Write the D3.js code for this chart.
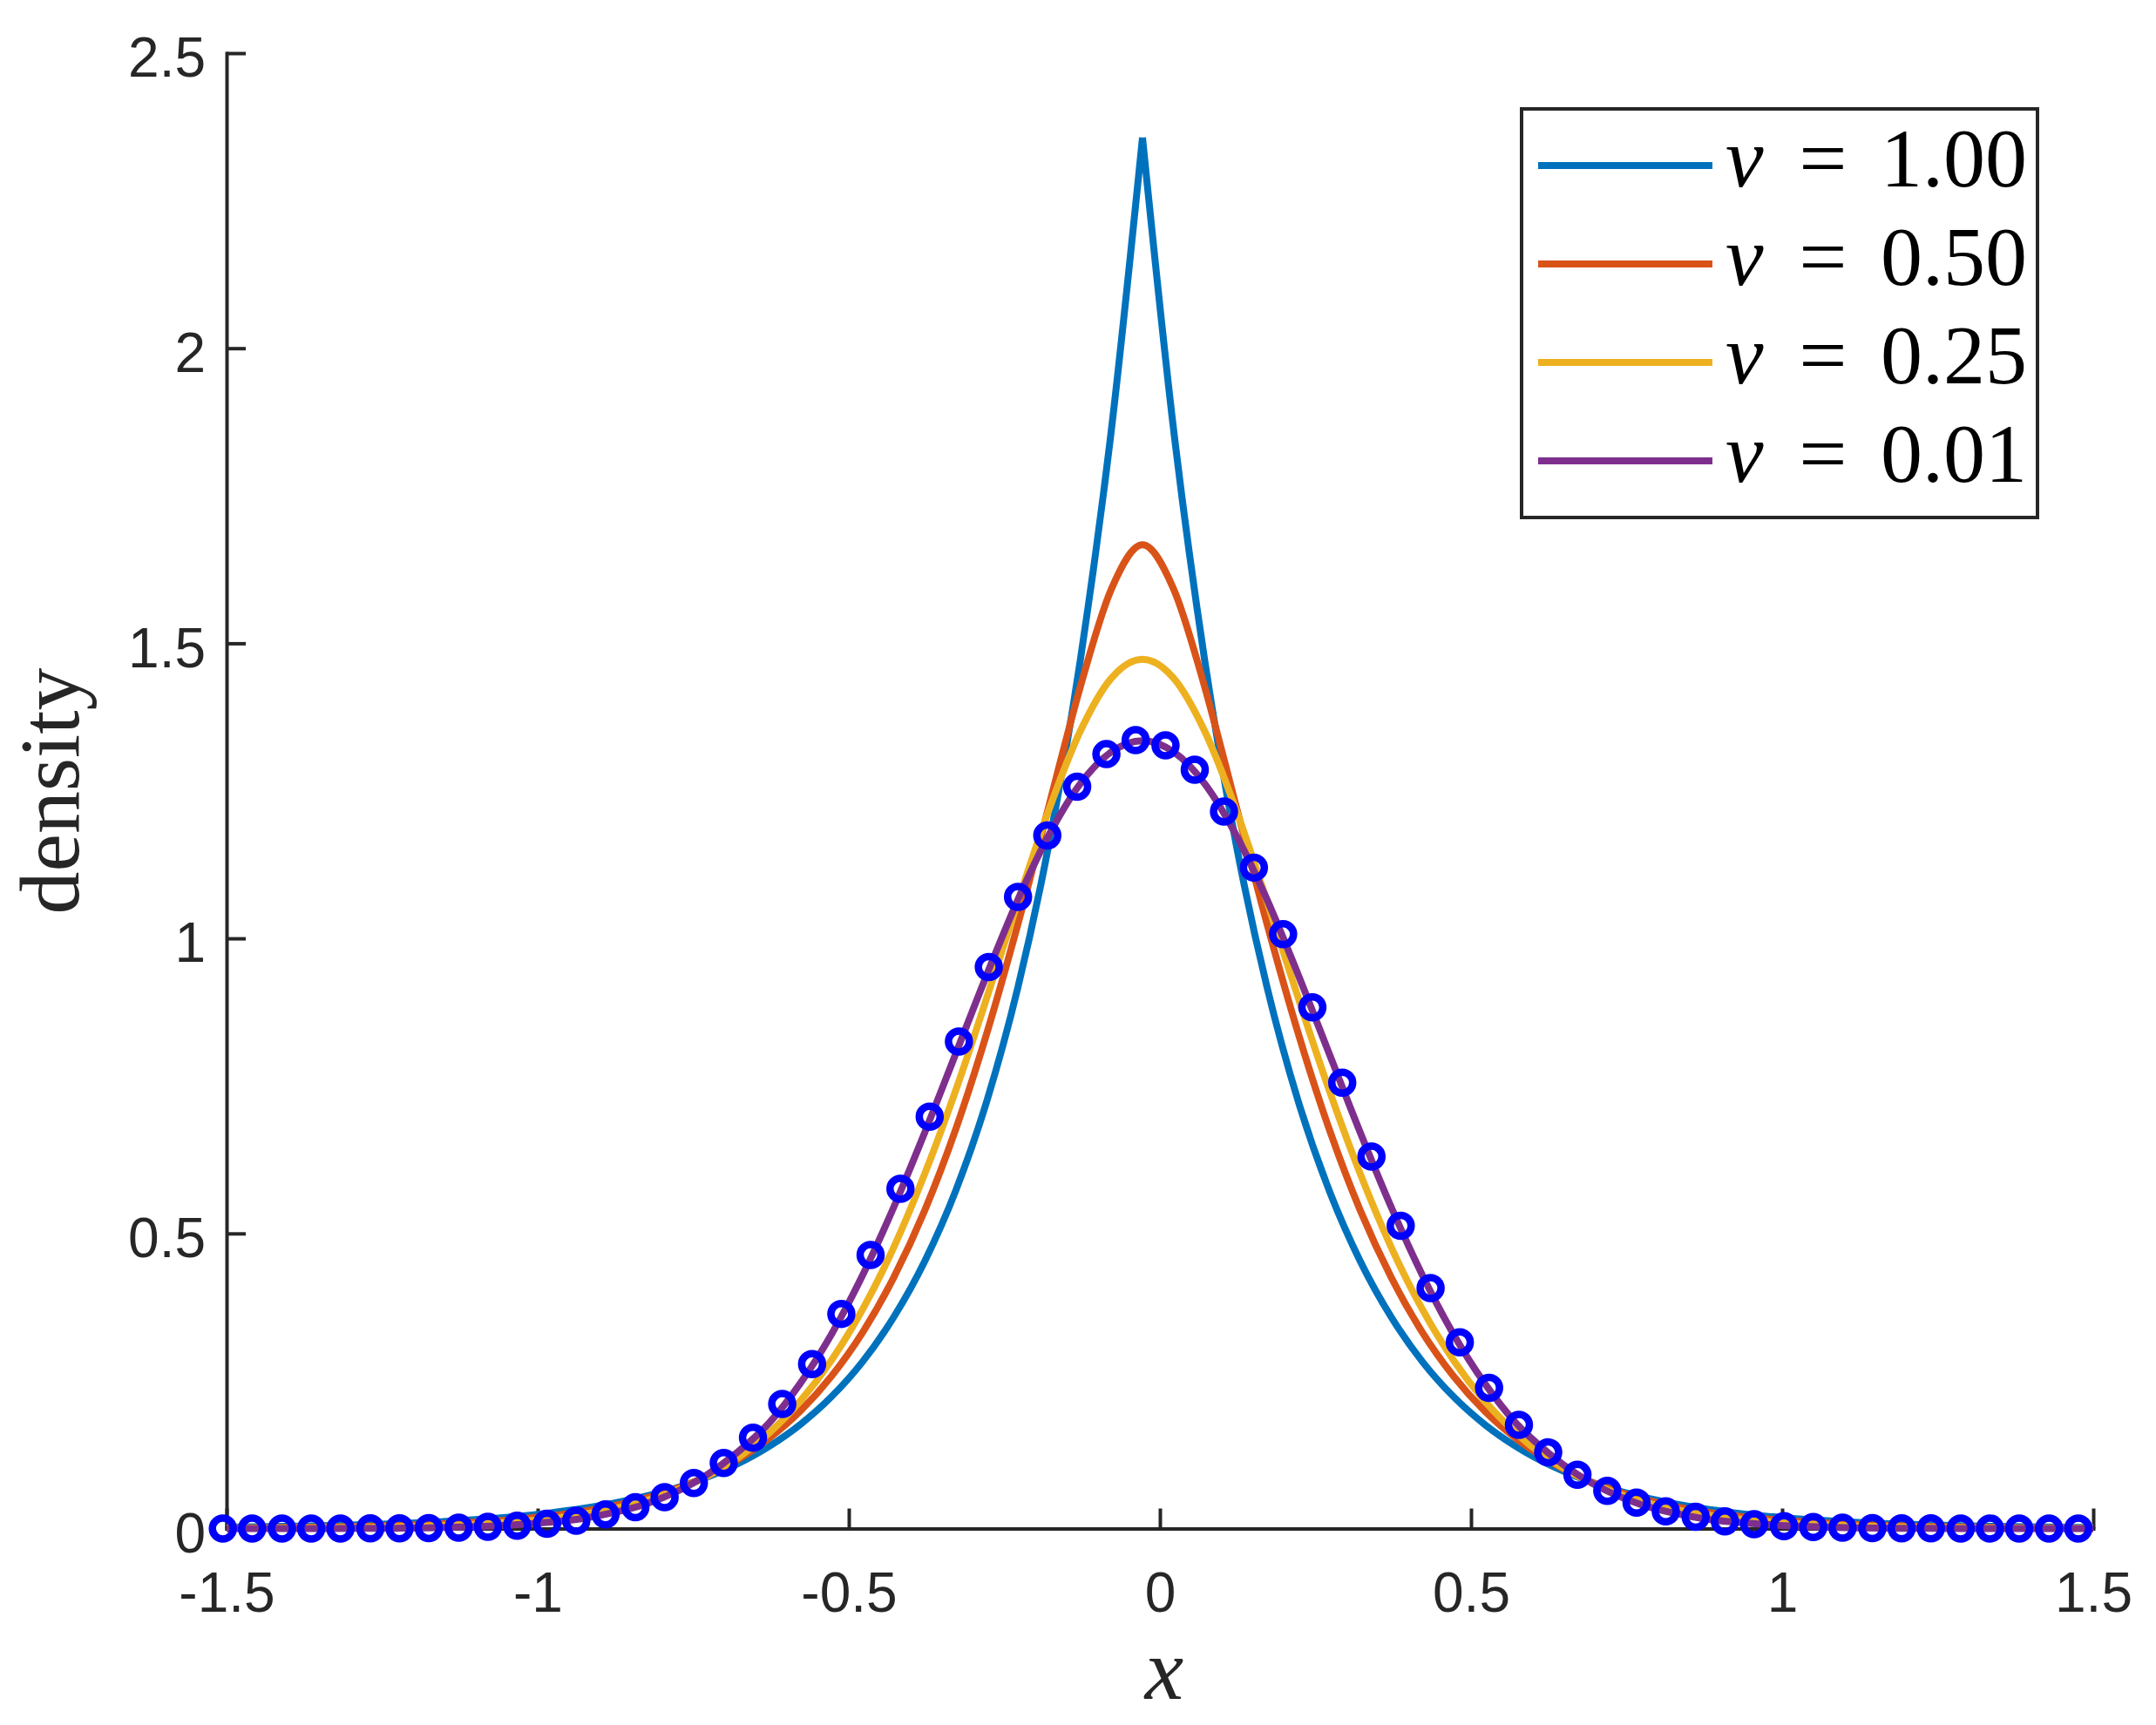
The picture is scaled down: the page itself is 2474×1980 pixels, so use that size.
<!DOCTYPE html>
<html>
<head>
<meta charset="utf-8">
<script src="https://cdn.jsdelivr.net/npm/d3@7/dist/d3.min.js"></script>
<style>
  html, body { margin: 0; padding: 0; background: #ffffff; }
  svg { display: block; }
</style>
</head>
<body>
<svg id="chart" width="2474" height="1980"></svg>
<script>
// ---------------- data ----------------
const xTicks = [-1.5, -1, -0.5, 0, 0.5, 1, 1.5];
const xTickLabels = ["-1.5", "-1", "-0.5", "0", "0.5", "1", "1.5"];
const yTicks = [0, 0.5, 1, 1.5, 2, 2.5];
const yTickLabels = ["0", "0.5", "1", "1.5", "2", "2.5"];

const seriesNames = ["1.00", "0.50", "0.25", "0.01"];
const seriesColors = ["#0072BD", "#D95319", "#EDB120", "#7E2F8E"];

const xGrid = [-1.5, -1.478, -1.428, -1.378, -1.328, -1.278, -1.228, -1.178, -1.128, -1.078, -1.028,
  -0.978, -0.928, -0.878, -0.828, -0.778, -0.728, -0.678, -0.628, -0.578, -0.528, -0.478, -0.428,
  -0.378, -0.328, -0.278, -0.228, -0.178, -0.128, -0.078, -0.028, 0.022, 0.072, 0.122, 0.172, 0.222,
  0.272, 0.322, 0.372, 0.422, 0.472, 0.522, 0.572, 0.622, 0.672, 0.722, 0.772, 0.822, 0.872, 0.922,
  0.972, 1.022, 1.072, 1.122, 1.172, 1.222, 1.272, 1.322, 1.372, 1.422, 1.472, 1.5];

const nu100 = [0.0023, 0.0025, 0.0032, 0.0041, 0.0051, 0.0065, 0.0082, 0.0104, 0.0132, 0.0167, 0.0211,
  0.0268, 0.0339, 0.0429, 0.0543, 0.0687, 0.0869, 0.1100, 0.1393, 0.1763, 0.2232, 0.2825, 0.358, 0.453,
  0.573, 0.725, 0.918, 1.162, 1.471, 1.862, 2.357, 1.862, 1.471, 1.162, 0.918, 0.725, 0.573, 0.453,
  0.358, 0.2825, 0.2232, 0.1763, 0.1393, 0.1100, 0.0869, 0.0687, 0.0543, 0.0429, 0.0339, 0.0268,
  0.0211, 0.0167, 0.0132, 0.0104, 0.0082, 0.0065, 0.0051, 0.0041, 0.0032, 0.0025, 0.0020, 0.0018];

const nu050 = [0.0010, 0.0011, 0.0015, 0.0021, 0.0028, 0.0037, 0.0050, 0.0068, 0.0091, 0.0122, 0.0163,
  0.0217, 0.0289, 0.0384, 0.0510, 0.0674, 0.0888, 0.117, 0.153, 0.199, 0.258, 0.332, 0.425, 0.539,
  0.677, 0.840, 1.025, 1.226, 1.426, 1.592, 1.667, 1.592, 1.426, 1.226, 1.025, 0.840, 0.677, 0.539,
  0.425, 0.332, 0.258, 0.199, 0.153, 0.117, 0.0888, 0.0674, 0.0510, 0.0384, 0.0289, 0.0217, 0.0163,
  0.0122, 0.0091, 0.0068, 0.0050, 0.0037, 0.0028, 0.0021, 0.0015, 0.0011, 0.0008, 0.0007];

const nu025 = [0.0004, 0.0005, 0.0007, 0.0010, 0.0014, 0.0020, 0.0029, 0.0042, 0.0059, 0.0085, 0.0121,
  0.0171, 0.0240, 0.0337, 0.0468, 0.0646, 0.0886, 0.120, 0.162, 0.216, 0.285, 0.371, 0.476, 0.601,
  0.743, 0.900, 1.063, 1.219, 1.351, 1.441, 1.473, 1.441, 1.351, 1.219, 1.063, 0.900, 0.743, 0.601,
  0.476, 0.371, 0.285, 0.216, 0.162, 0.120, 0.0886, 0.0646, 0.0468, 0.0337, 0.0240, 0.0171, 0.0121,
  0.0085, 0.0059, 0.0042, 0.0029, 0.0020, 0.0014, 0.0010, 0.0007, 0.0005, 0.0003, 0.0003];

const nu001 = [0, 0, 0, 0.0001, 0.0001, 0.0003, 0.0005, 0.0010, 0.0025, 0.0040, 0.0070, 0.011,
  0.017, 0.027, 0.041, 0.062, 0.091, 0.130, 0.179, 0.246, 0.329, 0.429, 0.544, 0.671, 0.805, 0.939,
  1.066, 1.176, 1.262, 1.316, 1.335, 1.316, 1.262, 1.176, 1.066, 0.939, 0.805, 0.671, 0.544, 0.429,
  0.329, 0.246, 0.179, 0.130, 0.091, 0.062, 0.041, 0.027, 0.017, 0.011, 0.0070, 0.0040, 0.0025,
  0.0010, 0.0005, 0.0003, 0.0001, 0.0001, 0, 0, 0, 0];

const seriesValues = [nu100, nu050, nu025, nu001];

const sampleX = [-1.506, -1.459, -1.411, -1.364, -1.317, -1.269, -1.222, -1.175, -1.127, -1.080, -1.033,
  -0.985, -0.938, -0.891, -0.843, -0.796, -0.749, -0.701, -0.654, -0.607, -0.559, -0.512, -0.465,
  -0.417, -0.370, -0.323, -0.275, -0.228, -0.181, -0.133, -0.086, -0.039, 0.009, 0.056, 0.103, 0.151,
  0.198, 0.245, 0.293, 0.340, 0.387, 0.435, 0.482, 0.529, 0.577, 0.624, 0.671, 0.719, 0.766, 0.813,
  0.861, 0.908, 0.955, 1.003, 1.050, 1.097, 1.145, 1.192, 1.239, 1.287, 1.334, 1.381, 1.429, 1.476];

const sampleY = [0, 0, 0, 0.0001, 0.0001, 0.0003, 0.0005, 0.0009, 0.0016, 0.0029, 0.0049, 0.0082,
  0.0134, 0.024, 0.036, 0.053, 0.077, 0.111, 0.154, 0.211, 0.2785, 0.3637, 0.4634, 0.5758, 0.6979,
  0.8253, 0.9516, 1.0704, 1.1744, 1.2570, 1.3122, 1.3361, 1.3271, 1.2857, 1.2151, 1.1199, 1.0070,
  0.8832, 0.7554, 0.6303, 0.5131, 0.4074, 0.3154, 0.2383, 0.1756, 0.129, 0.091, 0.064, 0.044, 0.029,
  0.020, 0.0120, 0.0072, 0.0042, 0.0024, 0.0013, 0.0007, 0.0004, 0.0002, 0.0001, 0.0001, 0, 0, 0];

// ---------------- layout ----------------
const W = 2474, H = 1980;
const plot = { left: 260, right: 2402, top: 61, bottom: 1754.5 };
const axisColor = "#262626";
const tickFont = "'Liberation Sans', Arial, Helvetica, sans-serif";
const serifFont = "'Liberation Serif', 'Times New Roman', serif";

const svg = d3.select("#chart");
svg.append("rect").attr("width", W).attr("height", H).attr("fill", "#ffffff");

const x = d3.scaleLinear().domain([-1.5, 1.5]).range([plot.left, plot.right]);
const y = d3.scaleLinear().domain([0, 2.5]).range([plot.bottom, plot.top]);

// axes
const xAxis = d3.axisBottom(x)
  .tickValues(xTicks)
  .tickFormat((d, i) => xTickLabels[i])
  .tickSizeInner(-23).tickSizeOuter(0).tickPadding(50);
const yAxis = d3.axisLeft(y)
  .tickValues(yTicks)
  .tickFormat((d, i) => yTickLabels[i])
  .tickSizeInner(-22).tickSizeOuter(0).tickPadding(24);

const gx = svg.append("g").attr("transform", `translate(0,${plot.bottom})`).call(xAxis);
const gy = svg.append("g").attr("transform", `translate(${plot.left},0)`).call(yAxis);

[gx, gy].forEach(g => {
  g.select(".domain").attr("stroke", axisColor).attr("stroke-width", 4).attr("stroke-linecap", "square");
  g.selectAll(".tick line").attr("stroke", axisColor).attr("stroke-width", 4);
  g.selectAll(".tick text")
    .attr("fill", axisColor)
    .style("font-family", tickFont)
    .style("font-size", "64px");
});
gy.selectAll(".tick text").attr("dy", "0.42em");

// curves
const lineGen = d3.line()
  .x(d => x(d[0]))
  .y(d => y(d[1]))
  .curve(d3.curveMonotoneX);

const curves = svg.append("g");
seriesValues.forEach((vals, s) => {
  const pts = xGrid.map((xv, i) => [xv, vals[i]]);
  let pieces;
  if (s === 0) {
    const pk = d3.maxIndex(vals);
    pieces = [pts.slice(0, pk + 1), pts.slice(pk)];
  } else {
    pieces = [pts];
  }
  pieces.forEach(p => {
    curves.append("path")
      .attr("d", lineGen(p))
      .attr("fill", "none")
      .attr("stroke", seriesColors[s])
      .attr("stroke-width", 8)
      .attr("stroke-linejoin", "round")
      .attr("stroke-linecap", "butt");
  });
});

// sample markers
svg.append("g").selectAll("circle")
  .data(sampleX.map((xv, i) => [xv, sampleY[i]]))
  .join("circle")
  .attr("cx", d => x(d[0]))
  .attr("cy", d => y(d[1]))
  .attr("r", 12)
  .attr("fill", "none")
  .attr("stroke", "#0000FF")
  .attr("stroke-width", 8.5);

// axis labels
svg.append("text")
  .attr("x", 1336).attr("y", 1950)
  .attr("text-anchor", "middle")
  .style("font-family", serifFont)
  .style("font-style", "italic")
  .style("font-size", "100px")
  .attr("fill", axisColor)
  .text("x");

svg.append("text")
  .attr("transform", "translate(90,908) rotate(-90)")
  .attr("text-anchor", "middle")
  .style("font-family", serifFont)
  .style("font-size", "98px")
  .attr("fill", axisColor)
  .text("density");

// legend
const legend = { left: 1746, top: 125, width: 592, height: 469, row0: 190, rowStep: 113 };
const lg = svg.append("g");
lg.append("rect")
  .attr("x", legend.left).attr("y", legend.top)
  .attr("width", legend.width).attr("height", legend.height)
  .attr("fill", "#ffffff")
  .attr("stroke", axisColor).attr("stroke-width", 4);

seriesNames.forEach((name, i) => {
  const cy = legend.row0 + i * legend.rowStep;
  lg.append("line")
    .attr("x1", 1765).attr("x2", 1965)
    .attr("y1", cy).attr("y2", cy)
    .attr("stroke", seriesColors[i]).attr("stroke-width", 8);
  const base = cy + 24;
  lg.append("text")
    .attr("x", 1980).attr("y", base)
    .style("font-family", serifFont).style("font-style", "italic").style("font-size", "98px")
    .attr("fill", "#000000")
    .text("ν");
  lg.append("text")
    .attr("x", 2092).attr("y", base)
    .attr("text-anchor", "middle")
    .style("font-family", serifFont).style("font-size", "98px")
    .attr("fill", "#000000")
    .text("=");
  lg.append("text")
    .attr("x", 2158).attr("y", base)
    .style("font-family", serifFont).style("font-size", "96px")
    .attr("fill", "#000000")
    .text(name);
});
</script>
</body>
</html>
